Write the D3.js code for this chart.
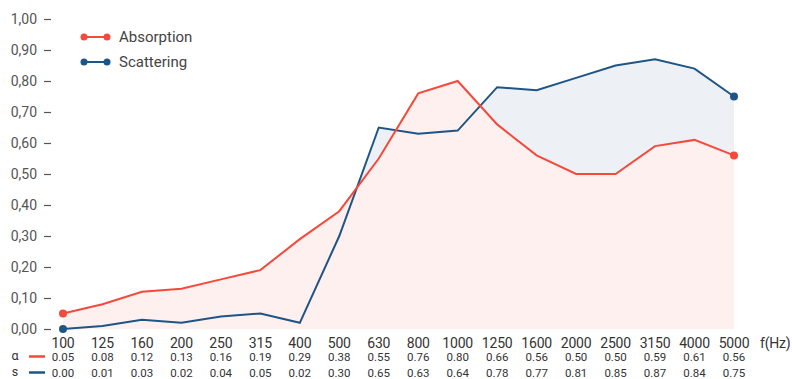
<!DOCTYPE html>
<html>
<head>
<meta charset="utf-8">
<script src="https://cdn.jsdelivr.net/npm/d3@7"></script>
<style>
  html, body { margin: 0; padding: 0; background: #fff; }
  svg { display: block; font-family: Roboto, "Noto Sans", sans-serif; }
</style>
</head>
<body>
<svg id="chart" width="792" height="379"></svg>
<script>
// Frequency bands (Hz) and measured coefficients
const frequencies = ["100","125","160","200","250","315","400","500","630","800","1000","1250","1600","2000","2500","3150","4000","5000"];
const absorption = [0.05,0.08,0.12,0.13,0.16,0.19,0.29,0.38,0.55,0.76,0.80,0.66,0.56,0.50,0.50,0.59,0.61,0.56];
const scattering = [0.00,0.01,0.03,0.02,0.04,0.05,0.02,0.30,0.65,0.63,0.64,0.78,0.77,0.81,0.85,0.87,0.84,0.75];
const yTicks = [0,0.1,0.2,0.3,0.4,0.5,0.6,0.7,0.8,0.9,1.0];

const red = "#f4493b", blue = "#1e5586";
const redFill = "#fef0ef", blueFill = "#edf1f6";
const textColor = "#555";

const svg = d3.select("#chart");

const x = d3.scalePoint().domain(frequencies).range([63, 734]);
const y = d3.scaleLinear().domain([0, 1]).range([329, 19]);

// y axis: ticks as short dashes with comma decimals
const yAxis = d3.axisLeft(y).tickValues(yTicks).tickSize(7).tickPadding(7)
  .tickFormat(d => d3.format(".2f")(d).replace(".", ","));
const gy = svg.append("g").attr("transform", "translate(51,0)").call(yAxis);
gy.select(".domain").remove();
gy.selectAll(".tick line").attr("stroke", "#555").attr("stroke-width", 1.2);
gy.selectAll(".tick text").attr("fill", textColor).style("font-size", "14px")
  .style("font-family", "Roboto, sans-serif");

const area = vals => d3.area()
  .x((d, i) => x(frequencies[i])).y0(y(0)).y1(d => y(d))(vals);
const line = vals => d3.line()
  .x((d, i) => x(frequencies[i])).y(d => y(d))(vals);

svg.append("path").attr("d", area(scattering)).attr("fill", blueFill);
svg.append("path").attr("d", area(absorption)).attr("fill", redFill);

svg.append("path").attr("d", line(scattering)).attr("fill", "none")
  .attr("stroke", blue).attr("stroke-width", 2);
svg.append("path").attr("d", line(absorption)).attr("fill", "none")
  .attr("stroke", red).attr("stroke-width", 2);

// end point markers
const last = frequencies.length - 1;
[[absorption, red], [scattering, blue]].forEach(([vals, c]) => {
  [0, last].forEach(i => {
    svg.append("circle").attr("cx", x(frequencies[i])).attr("cy", y(vals[i]))
      .attr("r", 4).attr("fill", c);
  });
});

// x axis labels
const xLab = svg.append("g");
frequencies.forEach(f => {
  xLab.append("text").attr("x", x(f)).attr("y", 348).attr("text-anchor", "middle")
    .attr("fill", "#333").style("font-size", "14px").style("letter-spacing", "-0.2px").text(f);
});
xLab.append("text").attr("x", 760).attr("y", 348).attr("fill", "#333")
  .style("font-size", "14px").style("letter-spacing", "-0.2px").text("f(Hz)");

// value table rows
const rows = [
  {sym: "α", vals: absorption, color: red, y: 361},
  {sym: "s", vals: scattering, color: blue, y: 377}
];
rows.forEach(r => {
  svg.append("text").attr("x", 15).attr("y", r.y - 1).attr("text-anchor", "middle")
    .attr("fill", "#333").style("font-size", "12.5px").text(r.sym);
  svg.append("line").attr("x1", 29).attr("x2", 45).attr("y1", r.y - 4.5).attr("y2", r.y - 4.5)
    .attr("stroke", r.color).attr("stroke-width", 2.5);
  r.vals.forEach((v, i) => {
    svg.append("text").attr("x", x(frequencies[i])).attr("y", r.y).attr("text-anchor", "middle")
      .attr("fill", "#333").style("font-size", "11.5px").text(v.toFixed(2));
  });
});

// legend
const legend = [{name: "Absorption", color: red}, {name: "Scattering", color: blue}];
legend.forEach((l, i) => {
  const ly = 37 + i * 25;
  const g = svg.append("g");
  g.append("line").attr("x1", 84).attr("x2", 107).attr("y1", ly).attr("y2", ly)
    .attr("stroke", l.color).attr("stroke-width", 2);
  g.append("circle").attr("cx", 84).attr("cy", ly).attr("r", 3.5).attr("fill", l.color);
  g.append("circle").attr("cx", 107).attr("cy", ly).attr("r", 3.5).attr("fill", l.color);
  g.append("text").attr("x", 119).attr("y", ly + 5).attr("fill", "#444")
    .style("font-size", "15px").text(l.name);
});
</script>
</body>
</html>
